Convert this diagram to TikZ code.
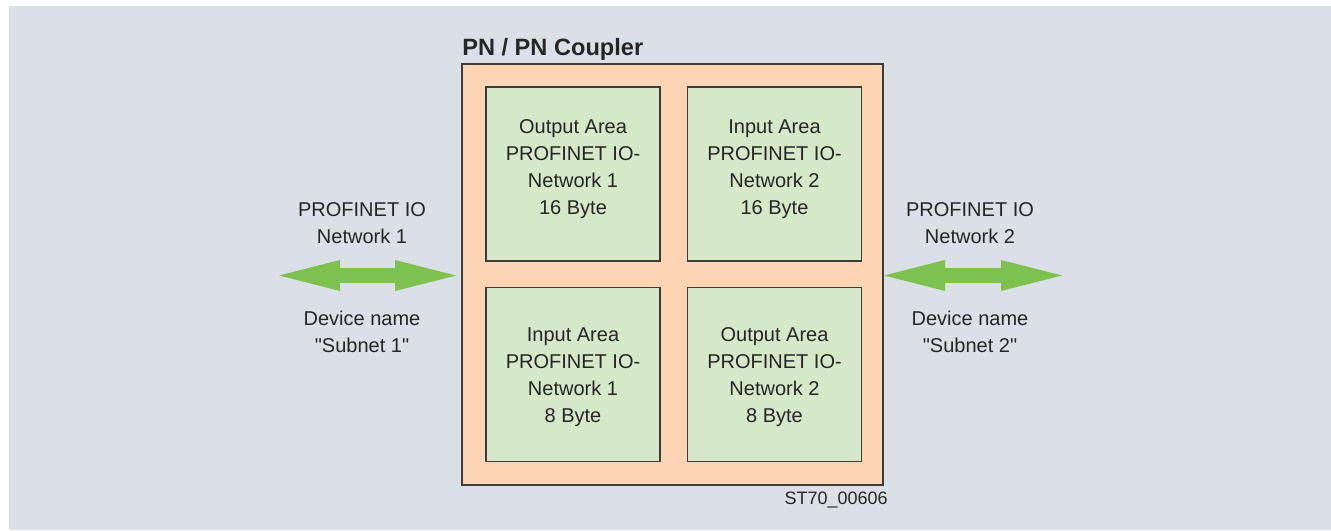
\documentclass[tikz,border=0pt]{standalone}
\usepackage{fontspec}
\setmainfont{Liberation Sans}[Ligatures=TeXOff]
\usepackage{tikz}
\usetikzlibrary{arrows.meta}
\definecolor{bggray}{HTML}{DAE0E5}
\definecolor{peach}{HTML}{FDD4B4}
\definecolor{lightgreen}{HTML}{D5E8C7}
\definecolor{arrowgreen}{HTML}{7DC24F}
\definecolor{edgegray}{HTML}{3C3C3C}

\begin{document}
\begin{tikzpicture}[x=0.75pt,y=-0.75pt,
    coupler/.style={draw=edgegray, line width=1.1pt, fill=peach, minimum size=315.75pt, inner sep=0pt},
    areabox/.style={draw=edgegray, line width=1.1pt, fill=lightgreen, minimum size=130.5pt, inner sep=0pt},
    areatext/.style={align=center, inner sep=0pt, text=black!85, font=\fontsize{15}{20.25}\selectfont},
    nettext/.style={align=center, inner sep=0pt, text=black!85, font=\fontsize{15}{20.25}\selectfont},
    netarrow/.style={draw=arrowgreen, line width=11.25pt,
        {Triangle[length=45.75pt,width=23.25pt,line width=0pt]}-{Triangle[length=45.75pt,width=23.25pt,line width=0pt]}}]
    \useasboundingbox (0,0) rectangle (1331,531);
    % sfondo
    \fill[white] (0,0) rectangle (1331,531);
    \fill[bggray] (9,6) rectangle (1331,530);
    % accoppiatore
    \node[coupler] (coupler) at (672.5,274.5) {};
    \node[anchor=base west, inner sep=0pt, text=black!85, font=\fontsize{17.7}{20}\selectfont\bfseries] (title) at (462,56) {PN / PN Coupler};
    % aree
    \node[areabox] (out1) at (573,174) {};
    \node[areabox] (in2) at (774.5,174) {};
    \node[areabox] (in1) at (573,374.5) {};
    \node[areabox] (out2) at (774.5,374.5) {};
    \node[areatext] (out1txt) at (573,169.5) {Output Area\\PROFINET IO-\\Network 1\\16 Byte};
    \node[areatext] (in2txt) at (774.5,169.5) {Input Area\\PROFINET IO-\\Network 2\\16 Byte};
    \node[areatext] (in1txt) at (573,377.5) {Input Area\\PROFINET IO-\\Network 1\\8 Byte};
    \node[areatext] (out2txt) at (774.5,377.5) {Output Area\\PROFINET IO-\\Network 2\\8 Byte};
    % reti
    \node[nettext] (net1) at (362,223.5) {PROFINET IO\\Network 1};
    \node[nettext] (dev1) at (362,332) {Device name\\"Subnet 1"};
    \node[nettext] (net2) at (970,223.5) {PROFINET IO\\Network 2};
    \node[nettext] (dev2) at (970,332) {Device name\\"Subnet 2"};
    \coordinate (a1) at (279,275.5);
    \coordinate (b1) at (456,275.5);
    \coordinate (a2) at (884,275.5);
    \coordinate (b2) at (1062,275.5);
    \draw[netarrow] (a1) -- (b1);
    \draw[netarrow] (a2) -- (b2);
    % codice
    \node[anchor=base east, inner sep=0pt, text=black!85, font=\fontsize{13.5}{16}\selectfont] (code) at (888,504) {ST70\_00606};
\end{tikzpicture}
\end{document}
